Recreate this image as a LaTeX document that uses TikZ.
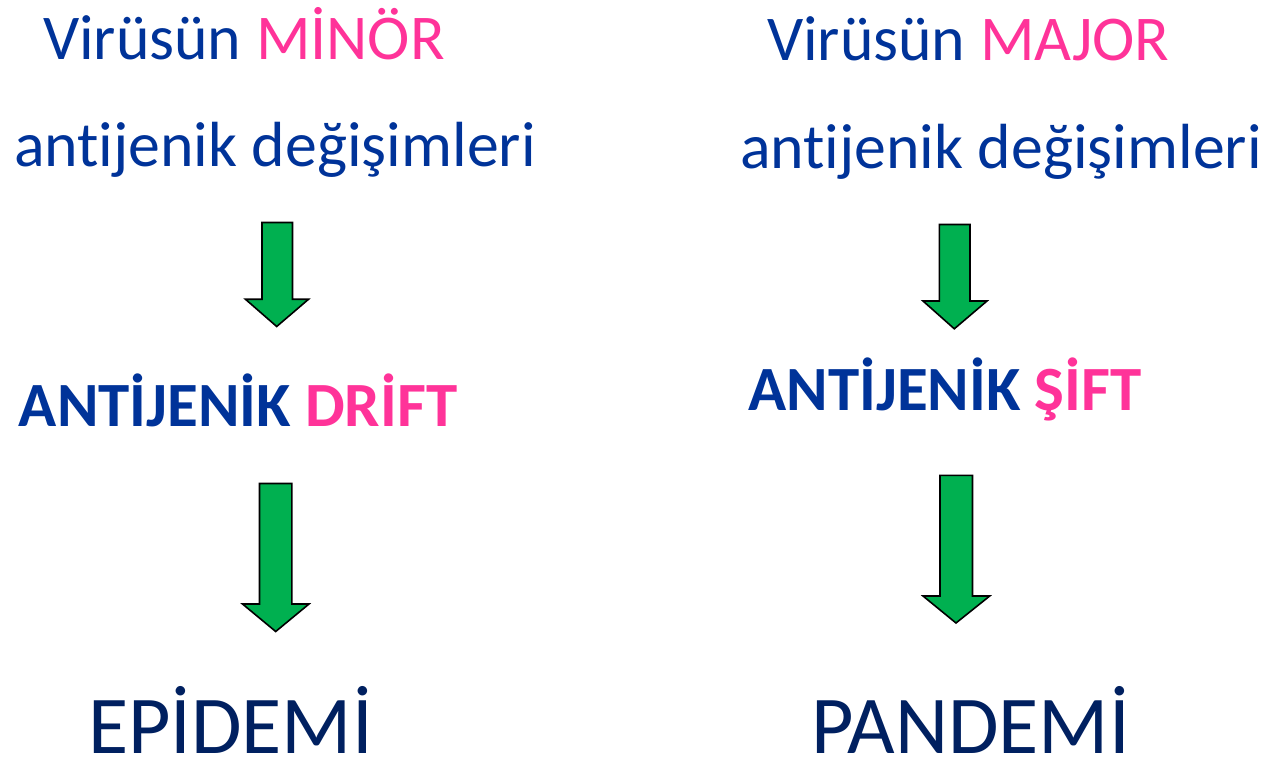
\documentclass[tikz,border=0pt]{standalone}
\usepackage{fontspec}
\setmainfont[Ligatures={NoCommon},Contextuals={NoAlternate}]{Carlito}
\definecolor{tblue}{HTML}{003399}
\definecolor{tpink}{HTML}{FF3399}
\definecolor{tnavy}{HTML}{002060}
\definecolor{tgreen}{HTML}{00B050}
\begin{document}
\begin{tikzpicture}[x=1pt,y=-1pt,
  txt/.style={anchor=base west,inner sep=0pt,outer sep=0pt},
  reg/.style={txt,text=tblue,font=\fontsize{63.8}{64}\selectfont},
  bld/.style={txt,text=tblue,font=\fontsize{63}{64}\selectfont\bfseries},
  big/.style={txt,text=tnavy,font=\fontsize{82.2}{84}\selectfont},
  blockarrow/.style={fill=tgreen,draw=black,line width=1.6pt,line join=miter}]
\useasboundingbox (0,0) rectangle (1269,759);
% left column
\node[reg] (l1) at (43,59.5) {Virüsün \textcolor{tpink}{MİNÖR}};
\node[reg] (l2) at (14,167) {antijenik değişimleri};
\node[bld] (l3) at (19,426.7) {ANTİJENİK \textcolor{tpink}{DRİFT}};
\node[big] (l4) at (88,753.3) {EPİDEMİ};
% right column
\node[reg] (r1) at (767,61) {Virüsün \textcolor{tpink}{MAJOR}};
\node[reg] (r2) at (740,168.5) {antijenik değişimleri};
\node[bld] (r3) at (748.5,410) {ANTİJENİK \textcolor{tpink}{ŞİFT}};
\node[big] (r4) at (811,753.3) {PANDEMİ};
% arrows
\draw[blockarrow] (262,222.5) -- (292.5,222.5) -- (292.5,299.3) -- (308.5,299.3) -- (276.7,326.5) -- (245.5,299.3) -- (262,299.3) -- cycle;
\draw[blockarrow] (259.5,483.5) -- (291.8,483.5) -- (291.8,604) -- (309,604) -- (275.7,631.5) -- (242.5,604) -- (259.5,604) -- cycle;
\draw[blockarrow] (939.3,224.5) -- (970,224.5) -- (970,301) -- (987,301) -- (954.3,328.8) -- (923,301) -- (939.3,301) -- cycle;
\draw[blockarrow] (940,475.3) -- (972.5,475.3) -- (972.5,596) -- (989.7,596) -- (956,623) -- (923,596) -- (940,596) -- cycle;
\end{tikzpicture}
\end{document}
